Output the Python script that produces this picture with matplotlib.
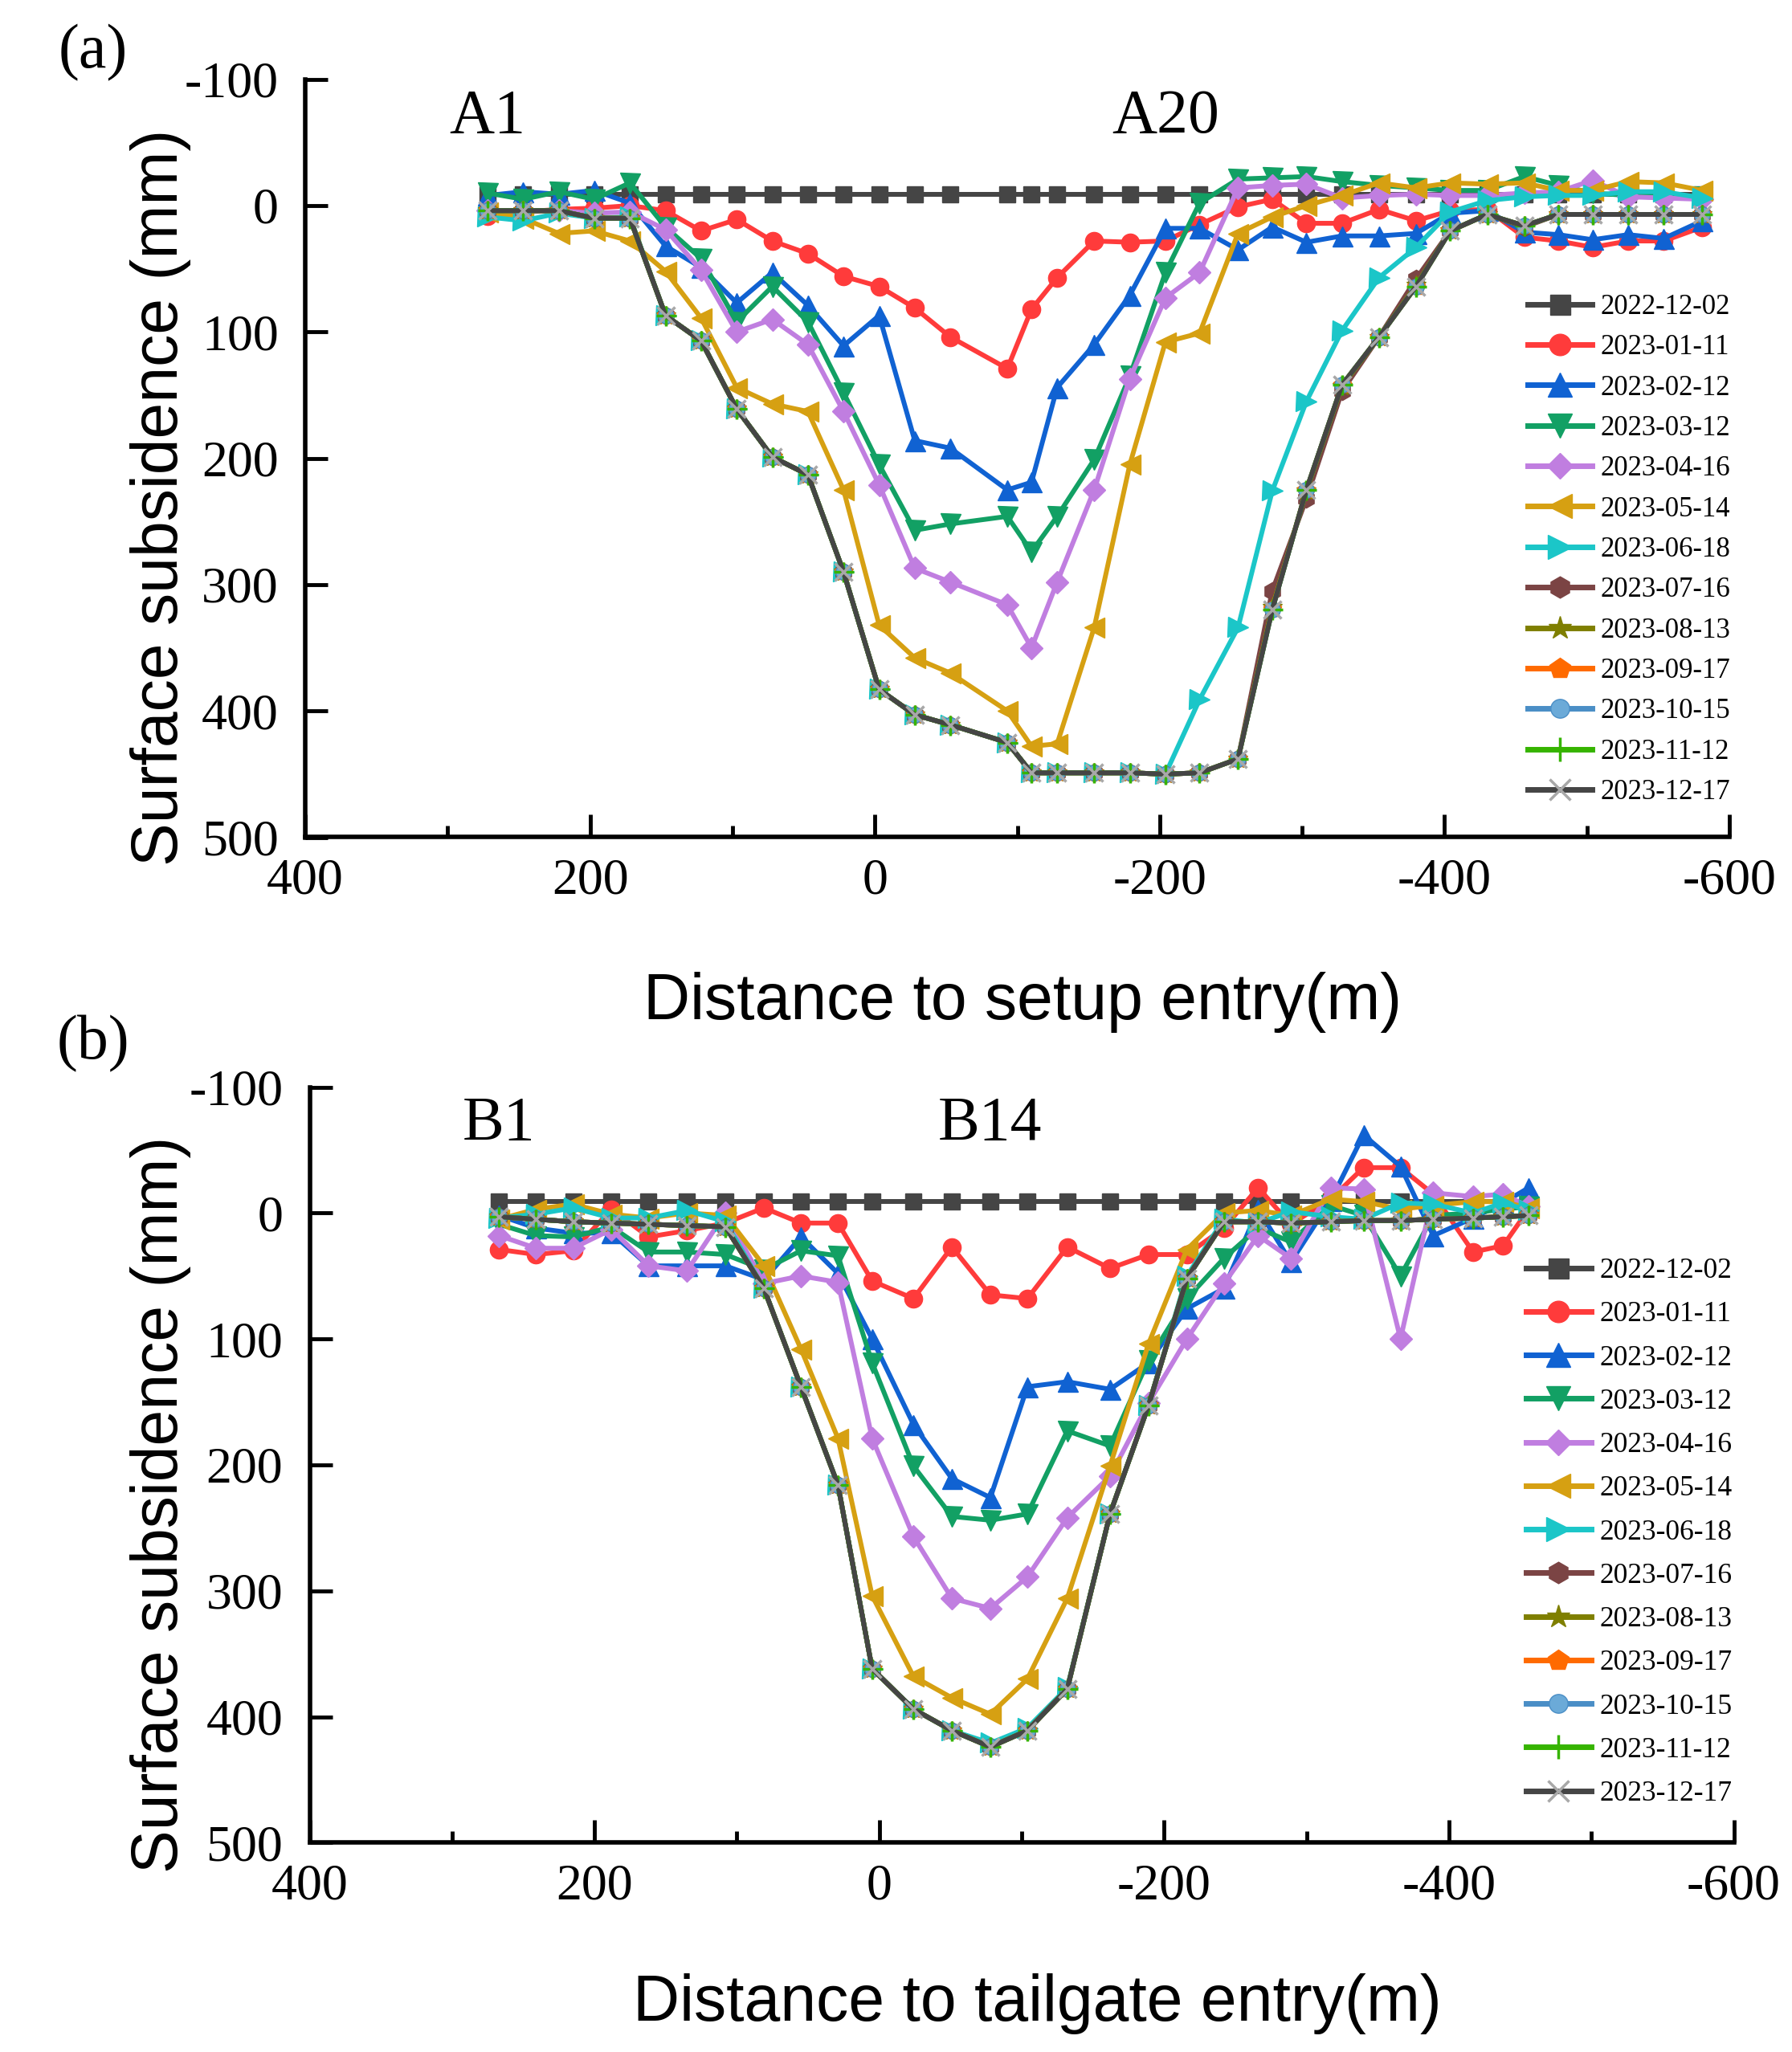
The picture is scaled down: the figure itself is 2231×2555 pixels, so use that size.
import matplotlib
matplotlib.use('Agg')
import matplotlib.pyplot as plt
from matplotlib.ticker import MultipleLocator

plt.rcParams['axes.unicode_minus'] = False
SERIF = ['Liberation Serif', 'DejaVu Serif']
SANS = ['Liberation Sans', 'DejaVu Sans']

# ---------------- data ----------------
dates = ['2022-12-02', '2023-01-11', '2023-02-12', '2023-03-12', '2023-04-16',
         '2023-05-14', '2023-06-18', '2023-07-16', '2023-08-13', '2023-09-17',
         '2023-10-15', '2023-11-12', '2023-12-17']

# panel (a): distance to setup entry (m)
xa = [272, 247, 222, 197, 172, 147, 122, 97, 72, 47, 22, -3, -28, -53, -93, -110, -128,
      -154, -179, -204, -228, -255, -279, -303, -328, -354, -380, -404, -430, -456, -480,
      -504, -529, -554, -581]
a_20221202 = [-9, -9, -9, -9, -9, -9, -9, -9, -9, -9, -9, -9, -9, -9, -9, -9, -9, -9,
              -9, -9, -9, -9, -9, -9, -9, -9, -9, -9, -9, -9, -9, -9, -9, -9, -9]
a_20230111 = [8, 5, 3, 2, 0, 4, 20, 11, 28, 38, 56, 64, 81, 104, 129, 82, 57, 28, 29, 28,
              15, 1, -5, 14, 14, 3, 12, 4, 3, 25, 28, 33, 28, 28, 17]
a_20230212 = [-8, -11, -9, -12, -2, 32, 49, 77, 53, 79, 111, 87, 186, 192, 225, 219, 144,
              110, 71, 18, 18, 35, 17, 29, 24, 24, 22, 6, 4, 21, 23, 27, 23, 26, 12]
a_20230312 = [-10, -5, -11, -5, -18, 17, 42, 92, 64, 92, 148, 205, 257, 252, 246, 274, 246,
              201, 135, 53, -2, -21, -22, -23, -19, -16, -14, -12, -12, -23, -16, -10, -8, -8, -7]
a_20230416 = [4, 5, 4, 6, 5, 19, 51, 100, 90, 110, 163, 221, 287, 298, 316, 350, 298, 225,
              137, 73, 53, -14, -16, -17, -6, -8, -9, -8, -8, -10, -11, -20, -7, -6, -5]
a_20230514 = [5, 10, 22, 20, 28, 52, 89, 144, 157, 163, 225, 332, 358, 370, 400, 428, 426,
              334, 205, 108, 101, 22, 9, 0, -8, -18, -14, -18, -17, -18, -12, -12, -19, -18, -12]
a_20230618 = [9, 12, 6, 10, 9, 87, 107, 161, 199, 213, 290, 383, 403, 411, 425, 449, 449,
              449, 449, 450, 391, 334, 226, 155, 99, 57, 33, 5, -4, -7, -8, -8, -11, -11, -6]
a_20230716 = [4, 4, 4, 10, 10, 87, 107, 161, 199, 213, 290, 383, 403, 411, 425, 449, 449,
              449, 449, 450, 449, 438, 305, 232, 147, 104, 58, 20, 7, 17, 7, 7, 7, 7, 7]
a_20230813 = [4, 4, 4, 10, 10, 87, 107, 161, 199, 213, 290, 383, 403, 411, 425, 449, 449,
              449, 449, 450, 449, 438, 318, 226, 143, 104, 63, 20, 7, 16, 7, 7, 7, 7, 7]
a_20230917 = [4, 4, 4, 10, 10, 87, 107, 161, 199, 213, 290, 383, 403, 411, 425, 449, 449,
              449, 449, 450, 449, 438, 319, 225, 142, 104, 64, 20, 7, 16, 7, 7, 7, 7, 7]
a_20231015 = [4, 4, 4, 10, 10, 87, 107, 161, 199, 213, 290, 383, 403, 411, 425, 449, 449,
              449, 449, 450, 449, 438, 320, 225, 142, 104, 64, 20, 7, 16, 7, 7, 7, 7, 7]
a_20231112 = [4, 4, 4, 10, 10, 87, 107, 161, 199, 213, 290, 383, 403, 411, 425, 449, 449,
              449, 449, 450, 449, 438, 320, 225, 142, 104, 64, 20, 7, 16, 7, 7, 7, 7, 7]
a_20231217 = [4, 4, 4, 10, 10, 87, 107, 161, 199, 213, 290, 383, 403, 411, 425, 449, 449,
              449, 449, 450, 449, 438, 320, 225, 142, 104, 64, 20, 7, 16, 7, 7, 7, 7, 7]

# panel (b): distance to tailgate entry (m)
xb = [267, 241, 215, 188, 162, 135, 108, 81, 55, 29, 5, -24, -51, -78, -104, -132, -162,
      -189, -216, -242, -266, -289, -317, -340, -366, -389, -417, -438, -456]
b_20221202 = [-9, -9, -9, -9, -9, -9, -9, -9, -9, -9, -9, -9, -9, -9, -9, -9, -9, -9, -9,
              -9, -9, -9, -9, -9, -9, -9, -9, -9, -9]
b_20230111 = [29, 33, 30, -3, 19, 14, 8, -4, 8, 8, 54, 68, 27, 65, 68, 27, 44, 33, 33, 12,
              -20, 9, -11, -36, -36, -15, 31, 26, -3]
b_20230212 = [2, 12, 16, 16, 42, 42, 42, 53, 19, 48, 100, 168, 211, 226, 138, 134, 140, 119,
              76, 60, -3, 39, -10, -62, -37, 18, 4, -8, -20]
b_20230312 = [9, 18, 19, 11, 31, 31, 33, 45, 30, 34, 119, 201, 241, 244, 239, 173, 185, 117,
              68, 36, 12, 23, -6, 2, 50, 2, 0, -3, -5]
b_20230416 = [18, 28, 28, 13, 42, 46, 0, 56, 50, 55, 179, 257, 306, 314, 289, 242, 209, 151,
              100, 56, 18, 36, -20, -19, 100, -16, -13, -15, -5]
b_20230514 = [5, -3, -7, 1, 4, 0, 2, 42, 108, 179, 304, 368, 385, 398, 370, 306, 201, 104,
              29, 0, -2, 2, -11, -9, -3, -6, -9, -9, -4]
b_20230618 = [4, 1, -4, 4, 4, -2, 7, 60, 138, 216, 362, 394, 411, 421, 409, 377, 239, 153,
              50, 5, 8, -1, 3, 5, -8, -7, 0, -8, -2]
b_20230716 = [3, 5, 7, 8, 9, 10, 11, 60, 138, 216, 362, 394, 411, 424, 411, 378, 239, 153,
              52, 7, 7, 8, 7, 6, 6, 5, 4, 3, 2]
b_20230813 = [3, 5, 7, 8, 9, 10, 11, 60, 138, 216, 362, 394, 411, 424, 411, 378, 239, 153,
              52, 7, 7, 8, 7, 6, 6, 5, 4, 3, 2]
b_20230917 = [3, 5, 7, 8, 9, 10, 11, 60, 138, 216, 362, 394, 411, 424, 411, 378, 239, 153,
              52, 7, 7, 8, 7, 6, 6, 5, 4, 3, 2]
b_20231015 = [3, 5, 7, 8, 9, 10, 11, 60, 138, 216, 362, 394, 411, 424, 411, 378, 239, 153,
              52, 7, 7, 8, 7, 6, 6, 5, 4, 3, 2]
b_20231112 = [3, 5, 7, 8, 9, 10, 11, 60, 138, 216, 362, 394, 411, 424, 411, 378, 239, 153,
              52, 7, 7, 8, 7, 6, 6, 5, 4, 3, 2]
b_20231217 = [3, 5, 7, 8, 9, 10, 11, 60, 138, 216, 362, 394, 411, 424, 411, 378, 239, 153,
              52, 7, 7, 8, 7, 6, 6, 5, 4, 3, 2]

series_a = [a_20221202, a_20230111, a_20230212, a_20230312, a_20230416, a_20230514,
            a_20230618, a_20230716, a_20230813, a_20230917, a_20231015, a_20231112, a_20231217]
series_b = [b_20221202, b_20230111, b_20230212, b_20230312, b_20230416, b_20230514,
            b_20230618, b_20230716, b_20230813, b_20230917, b_20231015, b_20231112, b_20231217]

xticks = [400, 200, 0, -200, -400, -600]
yticks = [-100, 0, 100, 200, 300, 400, 500]

# ---------------- styles ----------------
styles = [
    dict(color='#454545', marker='s', ms=15),
    dict(color='#FF3B3B', marker='o', ms=16),
    dict(color='#1062D2', marker='^', ms=18),
    dict(color='#12A064', marker='v', ms=18),
    dict(color='#C07EE0', marker='D', ms=14),
    dict(color='#D6A012', marker='<', ms=18),
    dict(color='#1BC6C8', marker='>', ms=18),
    dict(color='#7B4444', marker='h', ms=16),
    dict(color='#7F7F00', marker='*', ms=18),
    dict(color='#FF6A00', marker='p', ms=16),
    dict(color='#4A8EC6', marker='o', ms=14, mfc='#6BAAD8'),
    dict(color='#36B400', marker='+', ms=18, mew=2.5),
    dict(color='#454545', marker='x', ms=16, mec='#A8A8A8', mew=2.5),
]

W, H = 2231, 2555
fig = plt.figure(figsize=(W / 100, H / 100), dpi=100)


def px_axes(l, t, r, b):
    return fig.add_axes([l / W, 1 - b / H, (r - l) / W, (b - t) / H])


def draw(ax, x, series, leg_fs, leg_ls, leg_anchor, labels_pts, xlabel, xlab_xy, ylab_xy):
    for vals, lab, st in zip(series, dates, styles):
        st = dict(st)
        ax.plot(x, vals, label=lab, linewidth=4.3, color=st.pop('color'),
                marker=st.pop('marker'), markersize=st.pop('ms'), **st)
    ax.set_xlim(400, -600)
    ax.set_ylim(500, -100)
    ax.set_xticks(xticks)
    ax.xaxis.set_minor_locator(MultipleLocator(100))
    ax.set_yticks(yticks)
    for s in ['top', 'right']:
        ax.spines[s].set_visible(False)
    for s in ['left', 'bottom']:
        ax.spines[s].set_linewidth(4)
    ax.tick_params(axis='both', which='major', direction='in', length=20, width=3.5,
                   labelsize=46)
    ax.tick_params(axis='x', which='minor', direction='in', length=10, width=3.5)
    ax.tick_params(axis='x', which='major', pad=19)
    ax.tick_params(axis='y', which='major', pad=24)
    for lab in ax.get_xticklabels() + ax.get_yticklabels():
        lab.set_fontfamily(SERIF)
    for xi, txt in labels_pts:
        ax.text(x[xi], -70, txt, ha='center', va='center', fontsize=56, family=SERIF)
    leg = ax.legend(loc='upper right', bbox_to_anchor=leg_anchor, frameon=False,
                    prop={'family': SERIF, 'size': leg_fs}, handlelength=2.3,
                    handletextpad=0.3, labelspacing=leg_ls, borderpad=0, borderaxespad=0,
                    markerscale=1.2)
    for h in leg.get_lines():
        h.set_linewidth(5)
    fig.text(xlab_xy[0] / W, 1 - xlab_xy[1] / H, xlabel, ha='center', va='center',
             fontsize=58, family=SANS)
    fig.text(ylab_xy[0] / W, 1 - ylab_xy[1] / H, 'Surface subsidence (mm)', ha='center',
             va='center', rotation=90, fontsize=58, family=SANS)


axa = px_axes(380, 98.7, 2153, 1042.5)
axb = px_axes(385.5, 1353.5, 2158.5, 2294.3)

draw(axa, xa, series_a, 25, 0.5, (1.0006, 0.717), [(0, 'A1'), (19, 'A20')],
     'Distance to setup entry(m)', (1273, 1248), (200, 619))
draw(axb, xb, series_b, 25.5, 0.6, (0.999, 0.774), [(0, 'B1'), (13, 'B14')],
     'Distance to tailgate entry(m)', (1291, 2495), (200, 1873))

fig.text(116 / W, 1 - 66 / H, '(a)', ha='center', va='center', fontsize=56, family=SERIF)
fig.text(116 / W, 1 - 1300 / H, '(b)', ha='center', va='center', fontsize=56, family=SERIF)

fig.savefig('out.png', dpi=100, facecolor='white')
